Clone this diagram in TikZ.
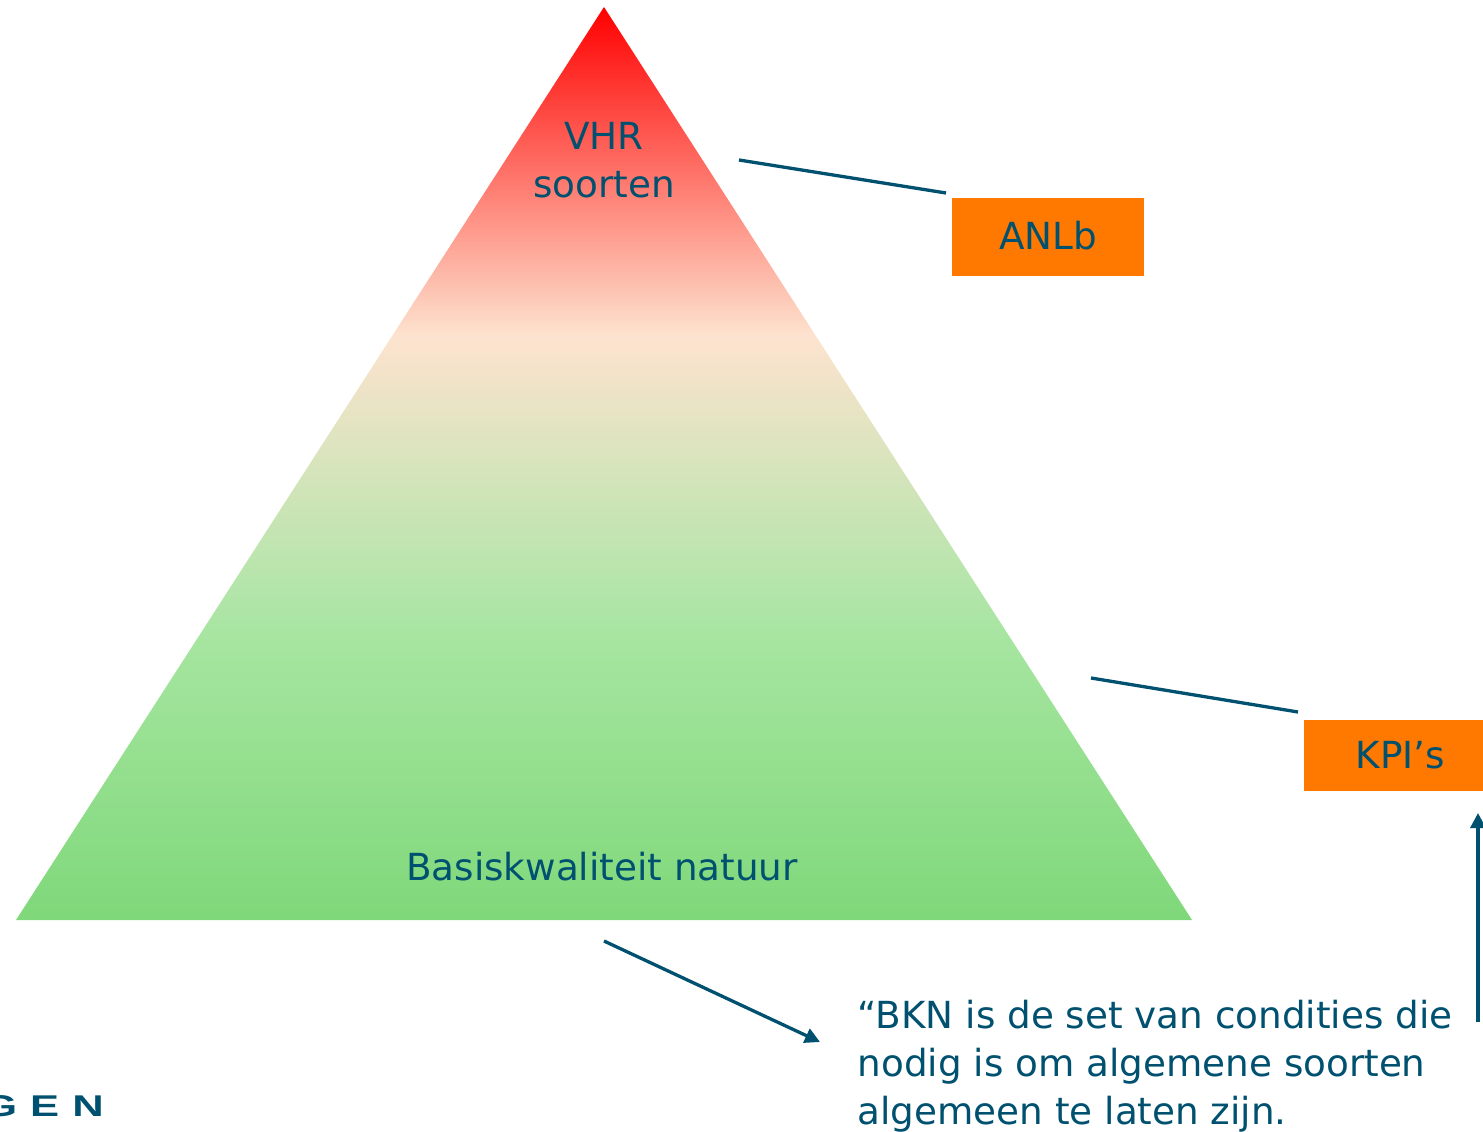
\documentclass[tikz,border=0pt]{standalone}
\usepackage{fontspec}
\setmainfont{DejaVu Sans}
\newfontfamily\logofont[LetterSpace=30]{Liberation Sans Bold}
\usetikzlibrary{arrows.meta}
\definecolor{ink}{HTML}{00506F}
\definecolor{boxorange}{HTML}{FF7900}
\definecolor{pA}{HTML}{7FD87A}
\definecolor{pE}{HTML}{A6E5A0}
\definecolor{pB}{HTML}{B0E5A8}
\definecolor{pC}{HTML}{FDE3CF}
\definecolor{pD}{HTML}{FF0000}
\pgfdeclareverticalshading{pyr}{100bp}{
  color(0bp)=(pA);
  color(25bp)=(pA);
  color(40.3bp)=(pE);
  color(42.5bp)=(pB);
  color(57bp)=(pC);
  color(75bp)=(pD);
  color(100bp)=(pD)}
\tikzset{
  x=1pt,y=-1pt,
  lbl/.style={text=ink,font=\fontsize{37.3}{48}\selectfont,inner sep=0pt,align=center},
  tag/.style={fill=boxorange,inner sep=0pt,text=ink,font=\fontsize{37.3}{48}\selectfont},
  link/.style={draw=ink,line width=3.3pt},
  flow/.style={link,-{Triangle[length=15pt,width=15pt]}}
}
\begin{document}
\begin{tikzpicture}
\useasboundingbox (0,0) rectangle (1483,1132);
\clip (0,0) rectangle (1483,1132);
\shade[shading=pyr] (604,7) -- (1192,920) -- (16,920) -- cycle;
\node[lbl] (vhr) at (604,160.5) {VHR\\soorten};
\node[lbl] (basis) at (602,867) {Basiskwaliteit natuur};
\node[tag,minimum width=192pt,minimum height=78pt,text depth=0pt] (anlb) at (1048,237) {\raisebox{2.5pt}{ANLb}};
\node[tag,minimum width=179pt,minimum height=71pt] (kpi) at (1393.5,755.5) {\hspace{14pt}KPI’s};
\node[lbl,align=left,anchor=north west] (bkn) at (857.5,1000) {“BKN is de set van condities die\\nodig is om algemene soorten\\algemeen te laten zijn.};
\node[text=ink,font=\logofont\fontsize{30}{30}\selectfont,anchor=base east,inner sep=0pt,xscale=1.45] (logo) at (104,1116) {GEN};
\coordinate (a1) at (739,160); \coordinate (a2) at (946,193);
\coordinate (b1) at (1091,678); \coordinate (b2) at (1298,712);
\coordinate (c1) at (604,941); \coordinate (c2) at (820,1042);
\coordinate (d1) at (1478,1022); \coordinate (d2) at (1478,813);
\draw[link] (a1) -- (a2);
\draw[link] (b1) -- (b2);
\draw[flow] (c1) -- (c2);
\draw[flow] (d1) -- (d2);
\end{tikzpicture}
\end{document}
